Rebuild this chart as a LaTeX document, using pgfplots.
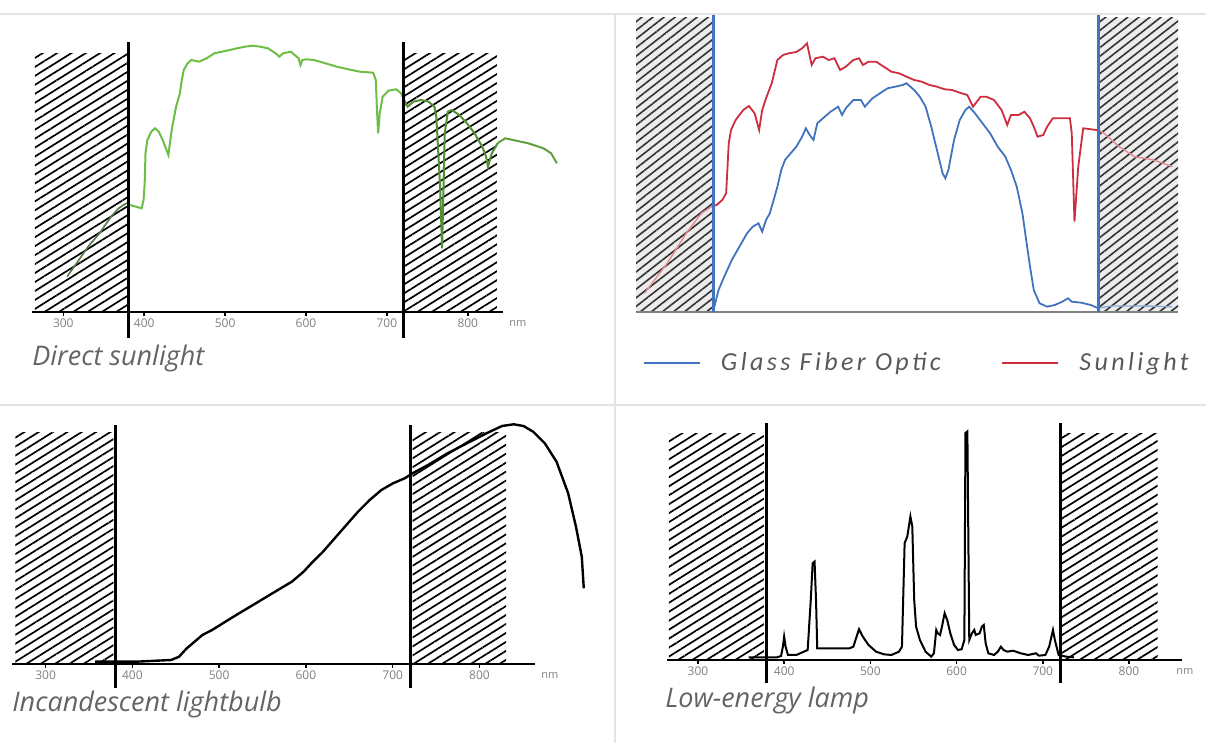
\documentclass[border=0pt]{standalone}
\usepackage{fontspec}
\setmainfont{Open Sans}
\newfontfamily\legfont{Carlito}[LetterSpace=13]
\usepackage{pgfplots}
\pgfplotsset{compat=1.18}
\usetikzlibrary{patterns.meta}
\definecolor{sungreen}{RGB}{110,190,70}
\definecolor{sungreendk}{RGB}{85,120,70}
\definecolor{fibblue}{RGB}{65,115,190}
\definecolor{sunred}{RGB}{205,45,60}
\definecolor{capgray}{RGB}{100,100,100}
\definecolor{sepgray}{RGB}{228,228,228}
\pgfplotsset{
  spec/.style={scale only axis, clip=false, axis x line*=bottom, axis y line=none,
    ytick=\empty, xtick={300,400,...,800},
    axis line style={line width=1pt},
    tick align=outside, major tick length=2pt, tick style={line width=0.8pt, black},
    xticklabel style={font=\fontsize{6}{6}\selectfont, text=gray, inner sep=1pt},
    /pgf/number format/assume math mode=true,
    xlabel={nm},
    xlabel style={at={(axis description cs:1,0)}, anchor=north west,
      font=\fontsize{5.5}{5.5}\selectfont, text=gray, inner sep=1pt, yshift=-3pt, xshift=2pt}},
  hatch/.style={draw=none, forget plot,
    pattern={Lines[angle=32,distance=3.8pt,line width=0.85pt]}, pattern color=black},
  vbar/.style={black, line width=1.5pt, forget plot},
}
\begin{document}
\begin{tikzpicture}
\path[use as bounding box] (0,0) rectangle (603pt,371.5pt);
\draw[sepgray, line width=0.6pt] (0,364.5pt) -- (603pt,364.5pt);
\draw[sepgray, line width=0.6pt] (0,169pt) -- (603pt,169pt);
\draw[sepgray, line width=0.6pt] (307.5pt,364.5pt) -- (307.5pt,0);

% ---------- Panel 1: Direct sunlight ----------
\begin{axis}[spec, at={(16pt,215.5pt)}, anchor=south west,
  width=235.5pt, height=135pt, xmin=261.3, xmax=843.5, ymin=0, ymax=270]
\addplot[hatch] coordinates {(265,258) (380,258)} \closedcycle;
\addplot[hatch] coordinates {(720,258) (836,258)} \closedcycle;
\addplot[sungreendk, line width=0.8pt, forget plot] coordinates {(304.6,35.3) (316.4,48.7) (330.6,65.3) (344.8,78.7) (359,95.3) (368.4,103.7) (377.9,108.7) (380,108.5)};
\addplot[sungreen, line width=1pt, forget plot] coordinates {(380,108.5) (382.6,107) (396.8,103.7) (399.2,112) (400.6,128.7) (401.6,158.7) (403.9,172) (408.7,180.3) (413.4,183.7) (418.1,180.3) (422.8,172) (427.6,162) (429.9,157) (432.3,172) (434.7,185.3) (439.4,205.3) (444.1,218.7) (446.5,232) (448.9,242) (453.6,248.7) (458.3,252) (467.8,250.3) (477.2,253.7) (486.7,258.7) (496.2,260.3) (505.6,262) (515.1,263.7) (524.5,265.3) (534,266.3) (543.5,265.3) (552.9,263.7) (562.4,258.7) (567.1,255.3) (571.8,258.7) (581.3,260.3) (586,257) (590.8,253.7) (593.1,247) (595.5,252) (600.2,252.7) (609.7,252) (623.9,248.7) (638.1,245.3) (652.3,242.7) (666.5,240.3) (683,239.3) (686.3,232) (687.7,202) (689.2,178.7) (691.1,198.7) (694.8,215.3) (701.9,221.3) (711.4,222.7) (717.5,218.7) (720,214)};
\addplot[sungreen!75!black, line width=1pt, forget plot] coordinates {(720,214) (725.6,205.3) (732.7,210.3) (742.1,212) (751.6,210.3) (758.7,205.3) (761.1,195) (765.8,125.3) (768.2,63.7) (769.6,112) (771.5,178.7) (775.3,200.3) (780,202) (789.4,197) (798.9,188.7) (808.4,178.7) (817.8,165.3) (822.6,155.3) (824.9,145.3) (829.7,158.7) (836.8,168.7)};
\addplot[sungreen!85!black, line width=1pt, forget plot] coordinates {(836.8,168.7) (846.2,173.7) (855.7,172) (874.6,168.7) (893.5,163.7) (903,158.7) (910.1,148.7)};
\addplot[vbar] coordinates {(380,-26) (380,270)};
\addplot[vbar] coordinates {(720,-26) (720,270)};
\end{axis}
\node[anchor=base west, inner sep=0pt, font=\itshape\fontsize{13.5}{15}\selectfont, text=capgray] at (16pt,188.5pt) {Direct sunlight};

% ---------- Panel 2: Glass fiber optic vs sunlight ----------
\begin{axis}[scale only axis, clip=false, hide axis, at={(318pt,215.5pt)}, anchor=south west,
  width=271pt, height=148.5pt, xmin=312, xmax=790, ymin=0, ymax=297,
  legend columns=2,
  legend style={draw=none, fill=none, at={(axis description cs:0.011,-0.172)}, anchor=west,
    font=\legfont\itshape\fontsize{13}{15}\selectfont, text=gray!70!black, inner sep=0pt,
    /tikz/every odd column/.append style={column sep=8pt},
    /tikz/every even column/.append style={column sep=28pt}},
  legend image code/.code={\draw[line width=1.3pt,#1] (0pt,0pt) -- (28pt,0pt);}]
\addplot[draw=none, fill=gray!15, forget plot] coordinates {(312,294) (380,294)} \closedcycle;
\addplot[draw=none, fill=gray!15, forget plot] coordinates {(720,294) (790,294)} \closedcycle;
\addplot[draw=none, forget plot, pattern={Lines[angle=38,distance=3.4pt,line width=0.8pt]}, pattern color=black!80] coordinates {(312,294) (380,294)} \closedcycle;
\addplot[draw=none, forget plot, pattern={Lines[angle=38,distance=3.4pt,line width=0.8pt]}, pattern color=black!80] coordinates {(720,294) (790,294)} \closedcycle;
\addplot[gray, line width=0.6pt, forget plot] coordinates {(312,0) (790,0)};
\addplot[sunred!55, line width=0.7pt, forget plot] coordinates {(319.5,18.7) (339.5,48.7) (356.3,78.7) (369.7,98.7) (378.1,105) (380,106)};
\addplot[sunred!55, line width=0.7pt, forget plot] coordinates {(720,182) (724.8,178.7) (738.2,165.3) (751.6,155.3) (768.4,152) (785.1,145.3)};
\addplot[fibblue!60, line width=0.7pt, forget plot] coordinates {(720,4) (731.5,6) (758.3,6) (785.1,5.3)};
\addplot[fibblue, line width=0.9pt] coordinates {(380.4,2) (384.8,22) (389.8,35.3) (396.5,52) (403.2,65.3) (409.9,78.7) (414.9,85.3) (420,88.7) (423.3,80.3) (426.7,92) (430,98.7) (433.4,112) (436.7,125.3) (440.1,142) (443.4,152) (448.4,158.7) (453.4,165.3) (458.5,175.3) (461.8,183.7) (465.2,177) (468.5,172) (471.9,188.7) (476.9,193.7) (483.6,200.3) (490.3,205.3) (493.7,197) (497,203.7) (503.7,212) (510.4,212) (513.8,205.3) (520.5,213.7) (527.2,218.7) (533.9,223.7) (540.6,225.3) (547.3,227) (550.6,228.7) (557.3,222) (562.3,215.3) (567.4,205.3) (572.4,185.3) (577.4,162) (582.4,138.7) (584.8,133.7) (587.5,142) (592.5,172) (597.5,192) (602.5,202) (605.9,205.3) (610.9,198.7) (617.6,188.7) (624.3,178.7) (631,165.3) (637.7,155.3) (642.7,142) (647.8,125.3) (652.8,98.7) (656.1,72) (659.5,45.3) (662.8,22) (667.9,8.7) (674.6,5.3) (681.3,7) (688,10.3) (693,13.7) (696.3,10.3) (704.7,9.3) (713.1,7) (719.8,3.7)};
\addlegendentry{Glass Fiber Optic}
\addplot[sunred, line width=0.9pt] coordinates {(380,106) (383.1,107) (388.1,112) (391.5,118.7) (393.8,168.7) (395.8,182) (399.9,192) (406.6,202) (411.6,206) (416.6,198.7) (420.6,182) (423.3,202) (426.7,213.7) (431.7,228.7) (436.7,252) (441.7,257) (446.8,258.7) (453.4,260) (458.5,263.7) (462.8,268.7) (466.9,247) (470.2,253.7) (476.9,255.3) (481.9,252) (487,253.7) (492,242) (497,245.3) (503.7,252) (508.7,253.7) (512.1,247) (517.1,250.3) (523.8,250.3) (530.5,245.3) (537.2,240.3) (543.9,238.7) (550.6,235.3) (557.3,232) (564,230.3) (570.7,227) (577.4,225.3) (584.1,222.7) (590.8,222) (597.5,219.3) (604.2,217) (609.2,205.3) (612.6,210.3) (615.9,215.3) (621,215.3) (627.7,212) (634.4,202) (639.4,187) (642.7,197) (649.4,197) (654.5,200.3) (659.5,193.7) (662.8,185.3) (666.2,175.3) (671.2,177) (674.6,185.3) (679.6,193.7) (688,193.7) (694.7,193.7) (696.3,178.7) (698.7,90.3) (702,145) (706.4,183.7) (718.1,182) (720,182)};
\addlegendentry{Sunlight}
\addplot[fibblue, line width=1.4pt, forget plot] coordinates {(380,0) (380,297)};
\addplot[fibblue, line width=1.4pt, forget plot] coordinates {(720,0) (720,297)};
\end{axis}

% ---------- Panel 3: Incandescent lightbulb ----------
\begin{axis}[spec, at={(6pt,39.5pt)}, anchor=south west,
  width=261.5pt, height=119.5pt, xmin=261.3, xmax=864, ymin=0, ymax=239]
\addplot[hatch] coordinates {(265.3,231) (378,231)} \closedcycle;
\addplot[hatch] coordinates {(723,231) (830.7,231)} \closedcycle;
\addplot[black, line width=1.2pt, forget plot] coordinates {(357,2.3) (364.1,2.3) (404.4,2.3) (444.8,4) (453.8,7.3) (462.7,15.7) (471.7,22.3) (480.7,29) (491.9,34) (516.5,47.3) (539,59) (561.4,70.7) (583.8,82.3) (597.3,92.3) (606.3,100.7) (619.7,112.3) (633.2,125.7) (646.6,139) (660.1,152.3) (673.5,164) (687,174) (700.4,180.7) (713.9,185.7) (722.9,190.7) (740.8,199) (763.2,210.7) (785.6,220.7) (808.1,230.7) (826,238) (839.5,239.7) (850.7,238) (861.9,232.3) (875.3,220.7) (888.8,202.3) (902.2,170.7) (911.2,137.3) (917.9,107.3) (920.2,75.7)};
\addplot[vbar] coordinates {(380,-24) (380,239)};
\addplot[vbar] coordinates {(720,-24) (720,239)};
\end{axis}
\node[anchor=base west, inner sep=0pt, font=\itshape\fontsize{13.5}{15}\selectfont, text=capgray] at (6pt,15.5pt) {Incandescent lightbulb};

% ---------- Panel 4: Low-energy lamp ----------
\begin{axis}[spec, at={(333.5pt,41.5pt)}, anchor=south west,
  width=257.5pt, height=118.5pt, xmin=264, xmax=861.5, ymin=0, ymax=236.7,
  xlabel style={xshift=-6pt}]
\addplot[hatch] coordinates {(266.2,226.7) (376.5,226.7)} \closedcycle;
\addplot[hatch] coordinates {(720.6,226.7) (833.1,226.7)} \closedcycle;
\addplot[black, line width=1pt, forget plot] coordinates {(358.8,2.7) (374.3,2.7) (391.9,2.7) (396.3,4) (398.5,13.3) (399.9,23.3) (401.6,13.3) (404.3,5) (414,5) (422.8,8.3) (427.2,10) (430.8,60) (433,96.7) (435.2,98.3) (436.9,60) (438.3,11.7) (444.9,11.7) (462.5,11.7) (475.8,11.7) (480.2,13.3) (484.6,25) (486.8,30.7) (491.2,23.3) (497.8,15) (506.6,8.3) (515.5,5.7) (524.3,5) (533.1,8.3) (536.6,13.3) (539.7,116.7) (542.8,123.3) (546.4,143.3) (548.6,133.3) (550.8,60) (553,33.3) (557.4,20) (564,8.3) (570.6,3.3) (573.7,6.7) (576.4,30) (578.1,26.7) (580.8,25) (583,33.3) (586.1,46.7) (589.1,40) (592.7,26.7) (597.1,15) (601.5,10) (605.9,10.7) (609,20) (610.3,226.7) (612.5,228.3) (614.7,20) (617.8,26.7) (620.5,30) (622.2,25) (626.7,26.7) (629.3,33.3) (631.5,35) (633.7,16.7) (636.8,6.7) (643.4,5) (647.8,8.3) (651.4,13.3) (654.4,10) (658.9,8.3) (665.5,9.3) (674.3,6.7) (683.1,5) (692,6.7) (695.5,4.3) (703,5) (707.4,13.3) (711.8,30) (714,20) (718.4,5) (727.3,3.3) (736.1,2.7)};
\addplot[vbar] coordinates {(380,-23.3) (380,236.7)};
\addplot[vbar] coordinates {(720,-23.3) (720,236.7)};
\end{axis}
\node[anchor=base west, inner sep=0pt, font=\itshape\fontsize{13.5}{15}\selectfont, text=capgray] at (332.5pt,17.5pt) {Low-energy lamp};
\end{tikzpicture}
\end{document}
